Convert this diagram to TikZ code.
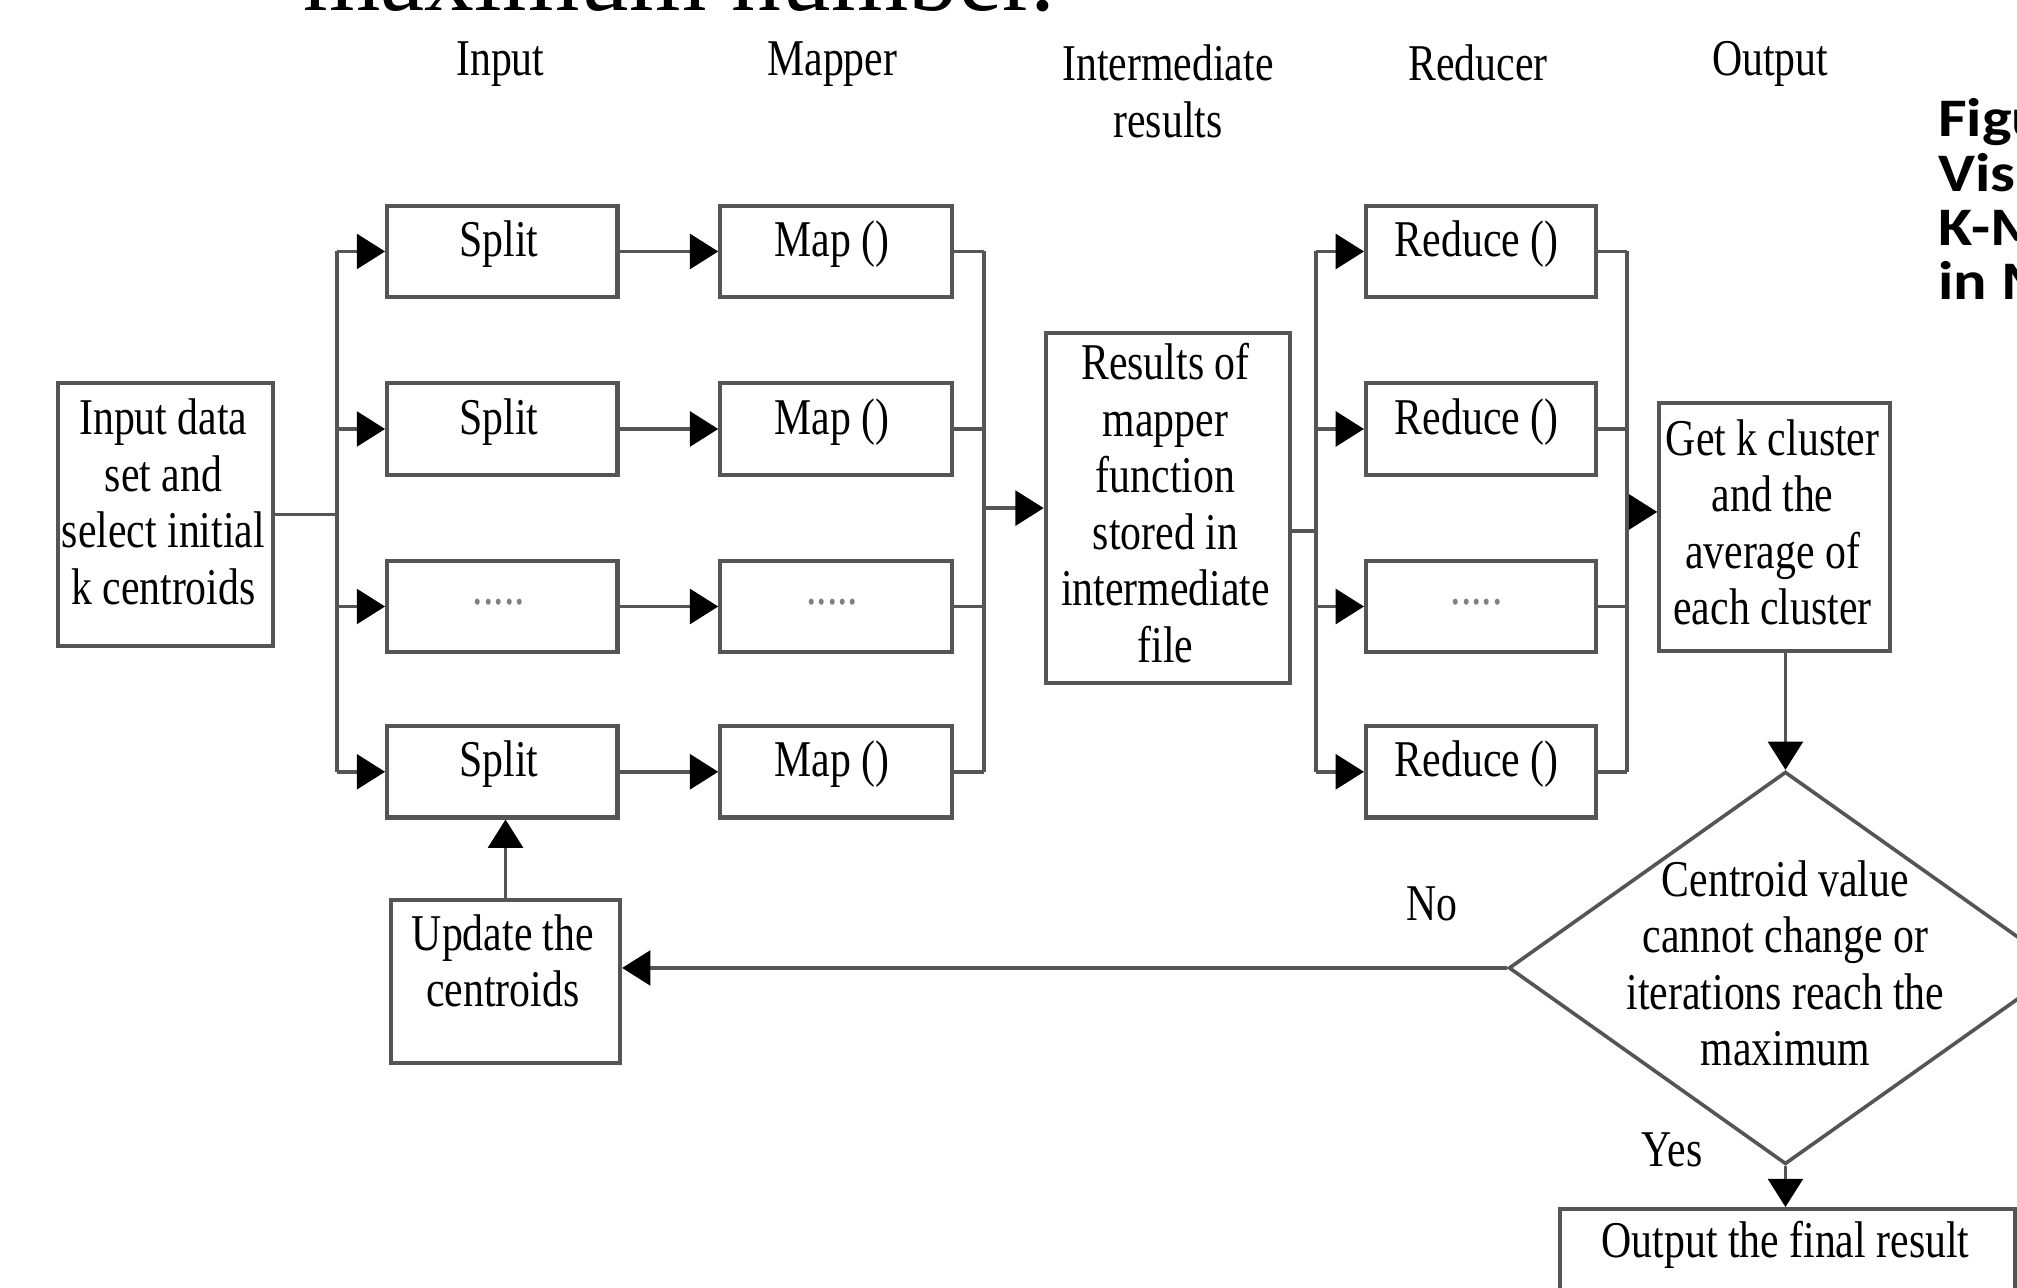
\documentclass[tikz,border=0pt]{standalone}
\usepackage{fontspec}
\usetikzlibrary{arrows.meta,shapes.geometric,calc}
\newfontfamily\dgf{Liberation Serif}[FakeStretch=0.81]
\newfontfamily\topf{Liberation Serif}
\newfontfamily\capf{Carlito}[FakeStretch=1.15]
\definecolor{lncol}{RGB}{85,85,85}
\begin{document}
\begin{tikzpicture}[x=0.01cm,y=-0.01cm,
  box/.style={draw=lncol,line width=0.9pt,minimum width=1.79cm,minimum height=0.71cm,inner sep=0},
  txt/.style={font={\dgf\fontsize{11.4}{12.5}\selectfont},inner sep=0,align=center},
  dots/.style={txt,text=gray},
  conn/.style={draw=lncol,line width=0.8pt},
  arr/.style={conn,-{Triangle[length=0.22cm,width=0.27cm,black]}},
  captxt/.style={anchor=base west,inner sep=0,font={\capf\bfseries\fontsize{12}{14}\selectfont}}
]
\useasboundingbox (0,0) rectangle (1568,1001);
\clip (0,0) rectangle (1568,1001);

% cut-off text of the page
\node[anchor=base west,inner sep=0,font={\topf\fontsize{22}{24}\selectfont}] (toptxt) at (235,8) {maximum number.};
\node[captxt] (cap1) at (1506,106) {Figu};
\node[captxt] (cap2) at (1506,149) {Visu};
\node[captxt] (cap3) at (1506,191) {K-M};
\node[captxt] (cap4) at (1506,233) {in M};

% column headers
\node[txt] (hin) at (389,50) {Input};
\node[txt] (hmap) at (647,50) {Mapper};
\node[txt] (hint) at (908,71) {Intermediate\\results};
\node[txt] (hred) at (1149,49) {Reducer};
\node[txt] (hout) at (1376,50) {Output};

% input box
\node[box,minimum width=1.67cm,minimum height=2.04cm] (inp) at (128.5,400) {};
\node[txt] (inpt) at (127,390) {Input data\\set and\\select initial\\k centroids};

% split boxes
\node[box] (s1) at (390.5,195.5) {};
\node[box] (s2) at (390.5,333.5) {};
\node[box] (s3) at (390.5,471.5) {};
\node[box] (s4) at (390.5,600) {};
\node[txt] (s1t) at (388,190) {Split};
\node[txt] (s2t) at (388,328) {Split};
\node[dots] (s3t) at (388,468) {.....};
\node[txt] (s4t) at (388,594) {Split};

% map boxes
\node[box,minimum width=1.80cm] (m1) at (650,195.5) {};
\node[box,minimum width=1.80cm] (m2) at (650,333.5) {};
\node[box,minimum width=1.80cm] (m3) at (650,471.5) {};
\node[box,minimum width=1.80cm] (m4) at (650,600) {};
\node[txt] (m1t) at (647,190) {Map ()};
\node[txt] (m2t) at (647,328) {Map ()};
\node[dots] (m3t) at (647,468) {.....};
\node[txt] (m4t) at (647,594) {Map ()};

% intermediate results
\node[box,minimum width=1.90cm,minimum height=2.72cm] (res) at (908,395) {};
\node[txt] (rest) at (906,391) {Results of\\mapper\\function\\stored in\\intermediate\\file};

% reduce boxes
\node[box] (r1) at (1151.5,195.5) {};
\node[box] (r2) at (1151.5,333.5) {};
\node[box] (r3) at (1151.5,471.5) {};
\node[box] (r4) at (1151.5,600) {};
\node[txt] (r1t) at (1148,190) {Reduce ()};
\node[txt] (r2t) at (1148,328) {Reduce ()};
\node[dots] (r3t) at (1148,468) {.....};
\node[txt] (r4t) at (1148,594) {Reduce ()};

% get clusters
\node[box,minimum height=1.93cm] (get) at (1379.5,409.5) {};
\node[txt] (gett) at (1378,406) {Get k cluster\\and the\\average of\\each cluster};

% decision
\node[diamond,draw=lncol,line width=0.8pt,minimum width=4.30cm,minimum height=3.05cm,inner sep=0] (dia) at (1388,752.5) {};
\node[txt] (diat) at (1388,749) {Centroid value\\cannot change or\\iterations reach the\\maximum};

% update
\node[box,minimum width=1.78cm,minimum height=1.26cm] (upd) at (393,763) {};
\node[txt] (updt) at (391,747) {Update the\\centroids};

% output
\node[box,minimum width=3.53cm,minimum height=1.20cm] (out) at (1389.5,1000) {};
\node[txt] (outt) at (1388,968) {Output the final result};

% labels
\node[txt] (no) at (1113,703) {No};
\node[txt] (yes) at (1300,894) {Yes};

% buses
\coordinate (b1t) at (262,195.5);
\coordinate (b1b) at (262,600);
\coordinate (b2t) at (765,195.5);
\coordinate (b2b) at (765,600);
\coordinate (b3t) at (1023,195.5);
\coordinate (b3b) at (1023,600);
\coordinate (b3m) at (1023,413);
\coordinate (b4t) at (1265,195.5);
\coordinate (b4b) at (1265,600);
\coordinate (b4m) at (1265,398);

\draw[conn] (b1t) -- (b1b);
\draw[conn] (b2t) -- (b2b);
\draw[conn] (b3t) -- (b3b);
\draw[conn] (b4t) -- (b4b);

\draw[conn] (inp.east) -- (inp.east -| b1t);
\foreach \i in {1,...,4} {
  \draw[arr] (s\i.west -| b1t) -- (s\i.west);
  \draw[arr] (s\i.east) -- (m\i.west);
  \draw[conn] (m\i.east) -- (m\i.east -| b2t);
  \draw[arr] (r\i.west -| b3t) -- (r\i.west);
  \draw[conn] (r\i.east) -- (r\i.east -| b4t);
}
\draw[arr] (res.west -| b2t) -- (res.west);
\draw[conn] (res.east |- b3m) -- (b3m);
\draw[arr] (b4m) -- (get.west |- b4m);
\draw[arr] (get.south -| dia.north) -- (dia.north);
\draw[arr] (dia.west) -- (upd.east |- dia.west);
\draw[arr] (upd.north) -- (upd.north |- s4.south);
\draw[arr] (dia.south) -- (dia.south |- out.north);
\end{tikzpicture}
\end{document}
